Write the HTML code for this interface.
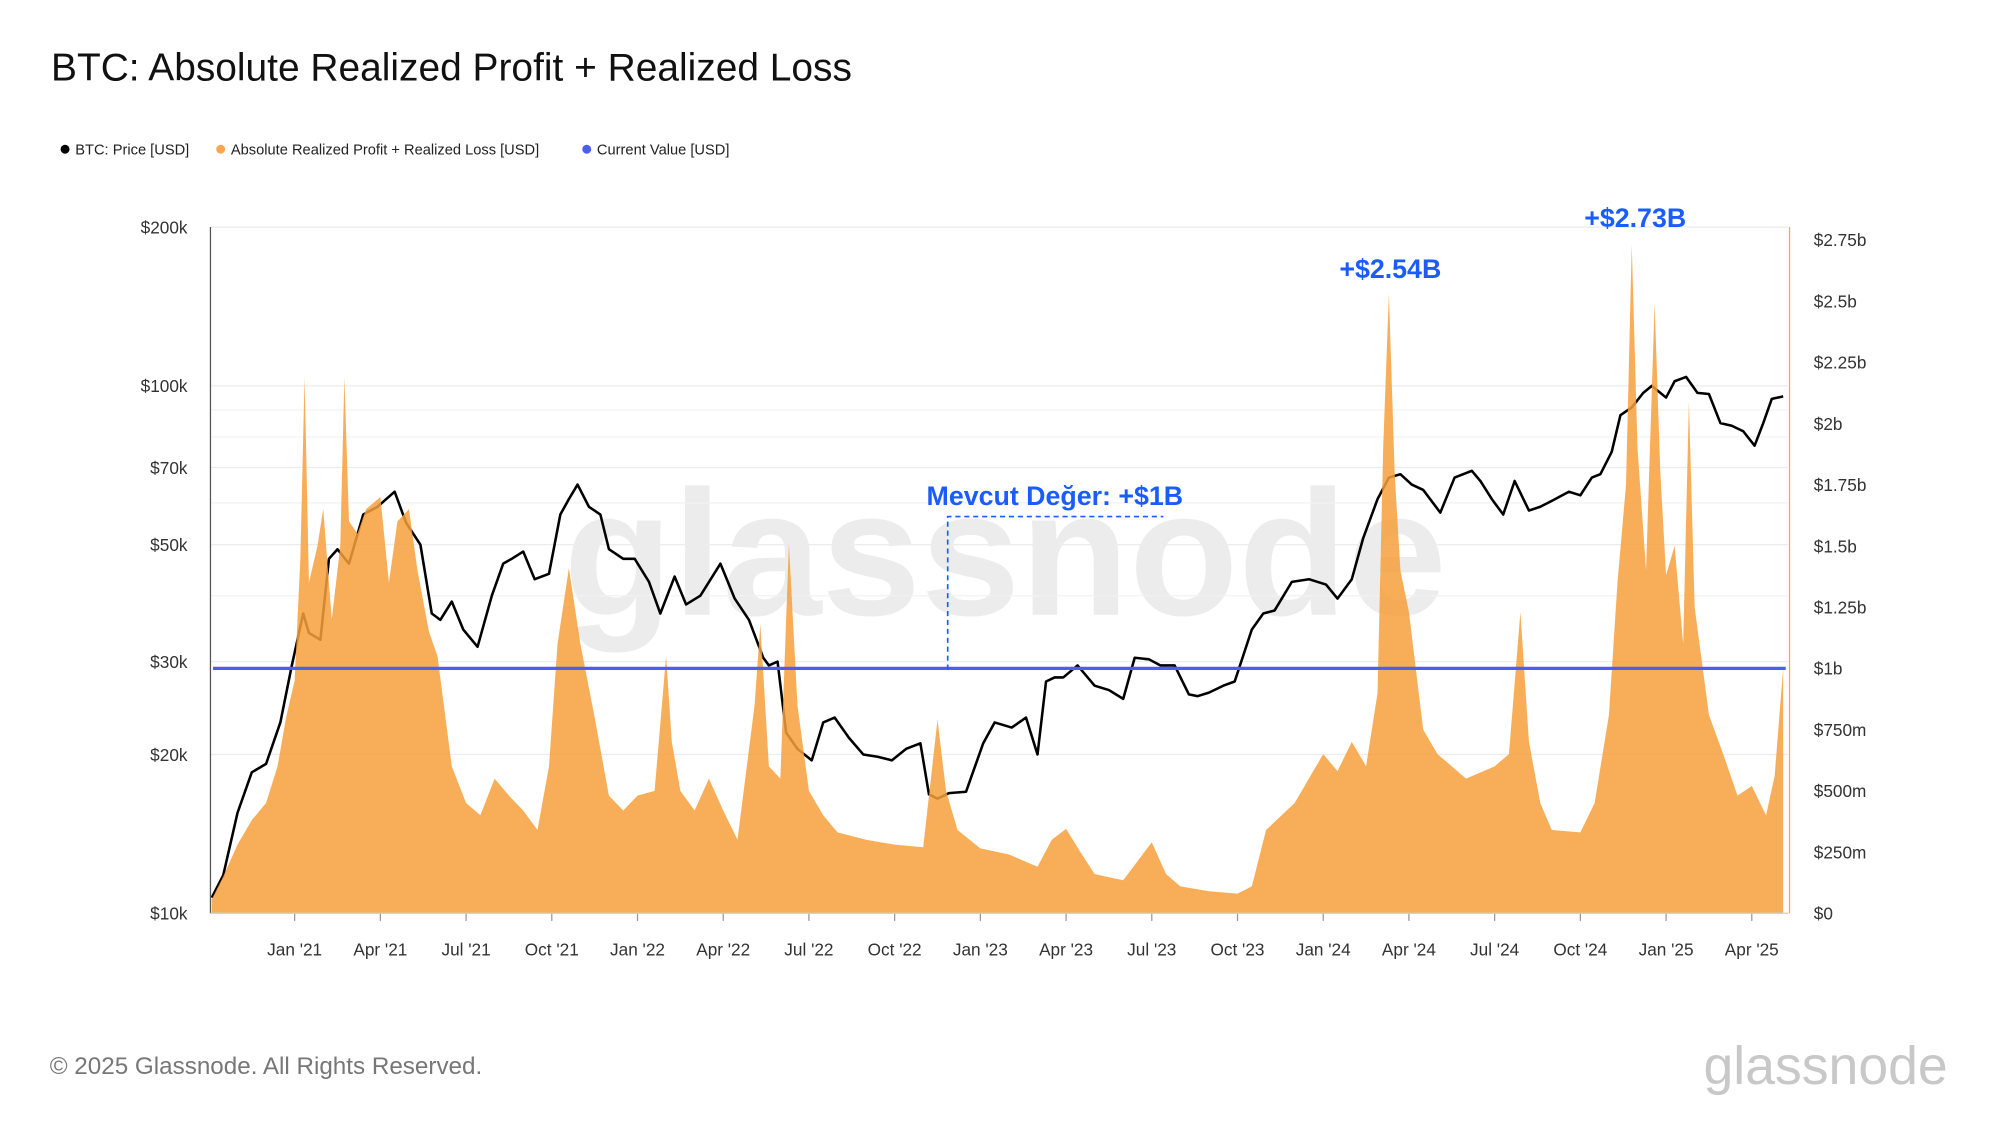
<!DOCTYPE html>
<html><head><meta charset="utf-8"><style>
html,body{margin:0;padding:0;background:#fff;}
svg{display:block;font-family:"Liberation Sans",Arial,sans-serif;}
</style></head><body>
<svg id="chart" width="2000" height="1125" viewBox="0 0 1568 882" xmlns="http://www.w3.org/2000/svg">
<rect width="1568" height="882" fill="#fff"/>
<text x="40" y="63" font-size="30.5" fill="#111">BTC: Absolute Realized Profit + Realized Loss</text>
<g font-size="11.5" fill="#222">
<g><circle cx="51" cy="117" r="3.5" fill="#000"/><text x="59" y="121">BTC: Price [USD]</text></g>
<g><circle cx="173" cy="117" r="3.5" fill="#f9a84c"/><text x="181" y="121">Absolute Realized Profit + Realized Loss [USD]</text></g>
<g><circle cx="460" cy="117" r="3.5" fill="#4a5ef0"/><text x="468" y="121">Current Value [USD]</text></g>
</g>
<text x="788" y="482" font-size="140" fill="#ececec" text-anchor="middle" font-weight="bold">glassnode</text>
<g id="grid"></g>
<g id="plot"></g>
<g id="axes"></g>
<g>
<text x="1090" y="218" font-size="21" font-weight="bold" fill="#1a5cff" text-anchor="middle">+$2.54B</text>
<text x="1282" y="178" font-size="21" font-weight="bold" fill="#1a5cff" text-anchor="middle">+$2.73B</text>
<text x="827" y="396" font-size="21" font-weight="bold" fill="#1a5cff" text-anchor="middle">Mevcut Değer: +$1B</text>
<path d="M743 525 V405 H912" fill="none" stroke="#1a5cff" stroke-width="1.3" stroke-dasharray="4,3"/>
</g>
<text x="39" y="842" font-size="19" fill="#777">© 2025 Glassnode. All Rights Reserved.</text>
<text x="1527" y="850" font-size="42" fill="#c8c8c8" text-anchor="end">glassnode</text>
</svg>
<script>
// month index: 0 = Jan 2021
const priceMonths=[-2.9,-2.5,-2,-1.5,-1,-0.5,-0.1,0.3,0.5,0.9,1.2,1.5,1.9,2.4,2.9,3.5,3.9,4.4,4.8,5.1,5.5,5.9,6.4,6.9,7.3,7.6,8,8.4,8.9,9.3,9.6,9.9,10.3,10.7,11,11.5,11.9,12.4,12.8,13.3,13.7,14.2,14.9,15.4,15.9,16.4,16.6,16.9,17.2,17.6,18.1,18.5,18.9,19.4,19.9,20.4,20.9,21.4,21.9,22.2,22.5,22.9,23.5,24.1,24.5,25.1,25.6,26.0,26.3,26.6,26.9,27.4,28,28.5,29,29.4,29.9,30.3,30.8,31.3,31.6,32,32.5,32.9,33.5,33.9,34.3,34.9,35.5,36.1,36.5,37,37.4,37.9,38.3,38.7,39.1,39.5,40.1,40.6,41.2,41.5,41.9,42.3,42.7,43.2,43.6,44,44.6,45,45.4,45.7,46.1,46.4,46.8,47.2,47.5,48,48.3,48.7,49.1,49.5,49.9,50.3,50.7,51.1,51.4,51.7,52.1];
const priceValues=[10700,11800,15500,18500,19200,23000,29500,37000,34000,33000,47000,49000,46000,57000,59000,63000,55000,50000,37000,36000,39000,34500,32000,40000,46000,47000,48500,43000,44000,57000,61000,65000,59000,57000,49000,47000,47000,42500,37000,43500,38500,40000,46000,39500,36000,30500,29500,30000,22000,20500,19500,23000,23500,21500,20000,19800,19500,20500,21000,16800,16500,16900,17000,21000,23000,22500,23500,20000,27500,28000,28000,29500,27000,26500,25500,30500,30300,29500,29500,26000,25800,26200,27000,27500,34500,37000,37500,42500,43000,42000,39500,43000,51500,61000,67000,68000,65000,63500,57500,67000,69000,66000,61000,57000,66000,58000,59000,60500,63000,62000,67000,68000,75000,88000,91000,97000,100000,95000,102000,104000,97000,96500,85000,84000,82000,77000,85000,94500,95500];
const realizedMonths=[-2.9,-2.5,-2,-1.5,-1,-0.6,-0.3,0,0.2,0.35,0.5,0.8,1,1.3,1.6,1.74,1.9,2.2,2.5,3,3.3,3.6,4,4.3,4.7,5,5.5,6,6.5,7,7.5,8,8.5,8.9,9.2,9.6,10,10.5,11,11.5,12,12.6,13,13.2,13.5,14,14.5,15,15.5,16.1,16.3,16.6,17,17.3,17.6,18,18.5,19,20,21,22,22.5,22.8,23.2,24,25,26,26.5,27,27.5,28,29,30,30.5,31,32,33,33.5,34,35,36,36.5,37,37.5,37.9,38.1,38.3,38.5,38.7,39,39.5,40,41,42,42.5,42.9,43.2,43.6,44,45,45.5,46,46.3,46.6,46.8,47,47.3,47.6,47.8,48,48.3,48.6,48.8,49,49.5,50,50.5,51,51.5,51.8,52.1];
const realizedValues=[57,150,280,380,450,600,800,950,1450,2190,1350,1500,1650,1200,1500,2190,1600,1550,1650,1700,1350,1600,1650,1400,1150,1050,600,450,400,550,480,420,340,600,1100,1410,1100,800,480,420,480,500,1050,700,500,420,550,420,300,850,1180,600,550,1510,850,500,400,330,300,280,270,790,500,340,265,240,190,300,345,250,160,135,290,160,110,90,80,110,340,450,650,580,700,600,900,1900,2530,1800,1400,1230,750,650,550,600,650,1230,700,450,340,330,450,810,1350,1750,2730,1900,1400,2490,1800,1380,1500,1100,2090,1250,810,650,480,520,400,560,1000];
const priceTicks=[10000,20000,30000,50000,70000,100000,200000];
const priceTickLabels=["$10k","$20k","$30k","$50k","$70k","$100k","$200k"];
const rightTicks=[0,250,500,750,1000,1250,1500,1750,2000,2250,2500,2750];
const rightTickLabels=["$0","$250m","$500m","$750m","$1b","$1.25b","$1.5b","$1.75b","$2b","$2.25b","$2.5b","$2.75b"];
const xTickMonths=[0,3,6,9,12,15,18,21,24,27,30,33,36,39,42,45,48,51];
const xTickLabels=["Jan '21","Apr '21","Jul '21","Oct '21","Jan '22","Apr '22","Jul '22","Oct '22","Jan '23","Apr '23","Jul '23","Oct '23","Jan '24","Apr '24","Jul '24","Oct '24","Jan '25","Apr '25"];
const currentValue=1000;

const NS="http://www.w3.org/2000/svg";
const X0=165,X1=1402,Y0=716;
const xs=m=>231+m*22.4;
const yLog=v=>Y0-Math.log10(v/10000)*413.5;
const yR=v=>Y0-v*0.192;
function mk(tag,attrs,parent){const e=document.createElementNS(NS,tag);for(const k in attrs)e.setAttribute(k,attrs[k]);parent.appendChild(e);return e;}
const grid=document.getElementById('grid'),plot=document.getElementById('plot'),axes=document.getElementById('axes');
priceTicks.forEach((t,i)=>{
  if(i>0){const l=mk('line',{x1:X0,x2:X1,y1:yLog(t),y2:yLog(t),stroke:'#ececec','stroke-width':1},grid);
  
  }
  const tx=mk('text',{x:147,y:yLog(t)+5,'font-size':13.5,fill:'#333','text-anchor':'end'},axes);tx.textContent=priceTickLabels[i];
  
  
});
[40000,60000,80000,90000].forEach(t=>{const l=mk('line',{x1:X0,x2:X1,y1:yLog(t),y2:yLog(t),stroke:'#f2f2f2','stroke-width':1},grid);
  
  });
rightTicks.forEach((t,i)=>{
  const tx=mk('text',{x:1422,y:yR(t)+5,'font-size':13.5,fill:'#333'},axes);tx.textContent=rightTickLabels[i];
  
  
});
xTickMonths.forEach((m,i)=>{
  const tk=mk('line',{x1:xs(m),x2:xs(m),y1:Y0,y2:Y0+6,stroke:'#999'},axes);
  
  
  const tx=mk('text',{x:xs(m),y:749,'font-size':13.5,fill:'#333','text-anchor':'middle'},axes);tx.textContent=xTickLabels[i];
  
  
});
const la=mk('line',{x1:X0,x2:X0,y1:178,y2:Y0,stroke:'#555','stroke-width':1},axes);


const ra=mk('line',{x1:1403,x2:1403,y1:178,y2:Y0,stroke:'#f9a84c','stroke-width':1},axes);


const xa=mk('line',{x1:X0,x2:X1,y1:Y0,y2:Y0,stroke:'#ccc','stroke-width':1},axes);


let d=priceMonths.map((m,i)=>(i?'L':'M')+xs(m).toFixed(1)+' '+yLog(priceValues[i]).toFixed(1)).join(' ');
const pl=mk('path',{d:d,fill:'none',stroke:'#000','stroke-width':2,'stroke-linejoin':'round'},plot);


let a='M'+xs(realizedMonths[0]).toFixed(1)+' '+Y0+' '+realizedMonths.map((m,i)=>'L'+xs(m).toFixed(1)+' '+yR(realizedValues[i]).toFixed(1)).join(' ')+' L'+xs(realizedMonths[realizedMonths.length-1]).toFixed(1)+' '+Y0+' Z';
const ar=mk('path',{d:a,fill:'rgb(247,160,60)','fill-opacity':0.85},plot);


const cv=mk('line',{x1:167,x2:1400,y1:yR(currentValue),y2:yR(currentValue),stroke:'#4a5ef0','stroke-width':2.5},plot);


</script>
</body></html>
